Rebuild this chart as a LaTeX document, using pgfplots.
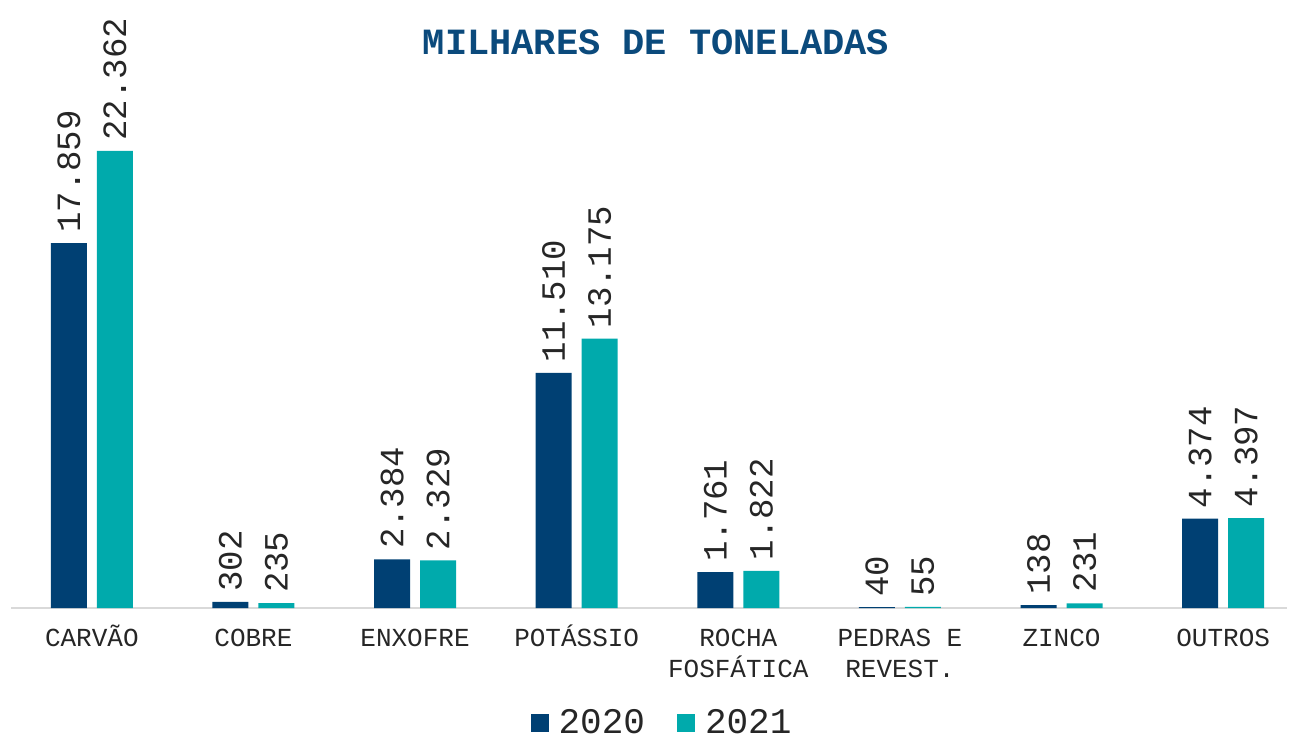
\documentclass[border=0pt]{standalone}
\usepackage{pgfplots}
\pgfplotsset{compat=1.18}
\usepackage{fontspec}
\setmainfont{Liberation Mono}
\definecolor{navy}{HTML}{004073}
\definecolor{teal2}{HTML}{00AAAC}
\definecolor{titleblue}{HTML}{0B4A7C}
\definecolor{lbl}{HTML}{262626}
\newcommand{\ph}{\vphantom{Á}}
\begin{document}
\begin{tikzpicture}
\path[use as bounding box] (-5.5pt,-66.5pt) rectangle (639pt,304pt);
\begin{axis}[
  scale only axis, width=638pt, height=299pt,
  xmin=-0.5, xmax=7.395, ymin=0, ymax=29260,
  axis x line*=bottom, axis y line=none,
  x axis line style={draw=black!15, line width=1pt, -},
  xtick=data,
  xticklabels={\ph CARVÃO, \ph COBRE, \ph ENXOFRE, \ph POTÁSSIO, {\ph ROCHA\\FOSFÁTICA}, {\ph PEDRAS E\\REVEST.}, \ph ZINCO, \ph OUTROS},
  xticklabel style={align=center, font=\fontsize{13}{15.5}\selectfont, text=lbl, yshift=-5pt},
  major tick length=0pt,
  ybar, bar width=18pt,
  /pgf/number format/.cd, fixed, precision=0, 1000 sep={.}, assume math mode=true,
  /pgfplots/.cd,
  nodes near coords,
  every node near coord/.append style={rotate=90, anchor=west, inner sep=0pt, xshift=5pt, font=\fontsize{17}{20}\selectfont, text=lbl},
  title={\textbf{MILHARES DE TONELADAS}},
  title style={at={(0.5055,0.9265)}, anchor=center, font=\fontsize{18.5}{20}\selectfont, text=titleblue},
  legend style={at={(0.511,-0.192)}, anchor=center, draw=none, legend columns=2, font=\fontsize{18}{20}\selectfont, text=lbl, inner sep=1pt,
    /tikz/every odd column/.append style={column sep=3pt},
    /tikz/every even column/.append style={column sep=14pt}},
  legend image code/.code={\fill[#1] (0pt,-4.5pt) rectangle (9pt,4.5pt);},
]
\addplot[fill=navy, draw=none, bar shift=-11.5pt] coordinates {(0,17859) (1,302) (2,2384) (3,11510) (4,1761) (5,40) (6,138) (7,4374)};
\addplot[fill=teal2, draw=none, bar shift=11.5pt] coordinates {(0,22362) (1,235) (2,2329) (3,13175) (4,1822) (5,55) (6,231) (7,4397)};
\legend{2020,2021}
\end{axis}
\end{tikzpicture}
\end{document}
